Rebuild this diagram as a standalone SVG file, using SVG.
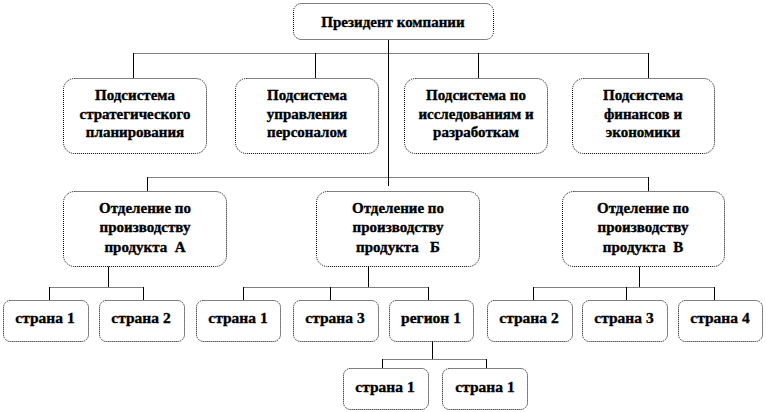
<svg xmlns="http://www.w3.org/2000/svg" width="766" height="412" viewBox="0 0 766 412">
<style>
.box{fill:#fff;stroke:#000;stroke-width:1;stroke-dasharray:1 1}
.t{font-family:'Liberation Serif','DejaVu Serif',serif;font-weight:bold;font-size:15px;fill:#000;stroke:#000;stroke-width:0.35;text-anchor:middle}
.s{font-size:15.5px}
.bus{fill:none;stroke:#000;stroke-width:1;stroke-dasharray:1 1}
.v{fill:none;stroke:#000;stroke-width:1}
</style>
<rect width="766" height="412" fill="#fff"/>
<g id="connectors">
  <path class="v" d="M388.5 40 V186"/>
  <path class="bus" d="M133.5 53.5 H648.5"/>
  <path class="v" d="M133.5 53 V78 M315.5 53 V78 M478.5 53 V78 M648.5 53 V78"/>
  <path class="bus" d="M147.5 177.5 H648.5"/>
  <path class="v" d="M147.5 177 V191 M648.5 177 V191"/>
  <path class="v" d="M108.5 266 V287 M368.5 266 V287 M639.5 266 V287 M432.5 341 V359"/>
  <path class="bus" d="M49.5 287.5 H143.5 M243.5 287.5 H428.5 M533.5 287.5 H714.5 M382.5 359.5 H486.5"/>
  <path class="v" d="M49.5 287 V300 M143.5 287 V300 M243.5 287 V300 M330.5 287 V300 M428.5 287 V300 M533.5 287 V300 M626.5 287 V300 M714.5 287 V300 M382.5 359 V368 M486.5 359 V368"/>
</g>
<g id="president">
  <rect class="box" x="293.5" y="3.5" width="200" height="36" rx="8"/>
  <text class="t" x="393" y="27">Президент компании</text>
</g>
<g id="sub1">
  <rect class="box" x="63.5" y="78.5" width="143" height="75" rx="11"/>
  <text class="t" x="135" y="100">Подсистема</text>
  <text class="t" x="135" y="118.5">стратегического</text>
  <text class="t" x="135" y="137">планирования</text>
</g>
<g id="sub2">
  <rect class="box" x="235.5" y="78.5" width="143" height="75" rx="11"/>
  <text class="t" x="307" y="100">Подсистема</text>
  <text class="t" x="307" y="118.5">управления</text>
  <text class="t" x="307" y="137">персоналом</text>
</g>
<g id="sub3">
  <rect class="box" x="404.5" y="78.5" width="143" height="75" rx="11"/>
  <text class="t" x="476" y="100">Подсистема по</text>
  <text class="t" x="476" y="118.5">исследованиям и</text>
  <text class="t" x="476" y="137">разработкам</text>
</g>
<g id="sub4">
  <rect class="box" x="572.5" y="78.5" width="142" height="75" rx="11"/>
  <text class="t" x="643" y="100">Подсистема</text>
  <text class="t" x="643" y="118.5">финансов и</text>
  <text class="t" x="643" y="137">экономики</text>
</g>
<g id="divA">
  <rect class="box" x="63.5" y="191.5" width="163" height="75" rx="11"/>
  <text class="t" x="145" y="213">Отделение по</text>
  <text class="t" x="145" y="232">производству</text>
  <text class="t" x="145" y="252" xml:space="preserve">продукта  А</text>
</g>
<g id="divB">
  <rect class="box" x="316.5" y="191.5" width="163" height="75" rx="11"/>
  <text class="t" x="398" y="213">Отделение по</text>
  <text class="t" x="398" y="232">производству</text>
  <text class="t" x="398" y="252" xml:space="preserve">продукта   Б</text>
</g>
<g id="divV">
  <rect class="box" x="562.5" y="191.5" width="162" height="75" rx="11"/>
  <text class="t" x="643" y="213">Отделение по</text>
  <text class="t" x="643" y="232">производству</text>
  <text class="t" x="643" y="252" xml:space="preserve">продукта  В</text>
</g>
<g id="a1"><rect class="box" x="3.5" y="300.5" width="85" height="41" rx="7"/><text class="t s" x="45" y="323">страна 1</text></g>
<g id="a2"><rect class="box" x="99.5" y="300.5" width="85" height="41" rx="7"/><text class="t s" x="141" y="323">страна 2</text></g>
<g id="b1"><rect class="box" x="196.5" y="300.5" width="84" height="41" rx="7"/><text class="t s" x="238" y="323">страна 1</text></g>
<g id="b3"><rect class="box" x="293.5" y="300.5" width="85" height="41" rx="7"/><text class="t s" x="335" y="323">страна 3</text></g>
<g id="r1"><rect class="box" x="389.5" y="300.5" width="84" height="41" rx="7"/><text class="t s" x="431" y="323">регион 1</text></g>
<g id="v2"><rect class="box" x="487.5" y="300.5" width="85" height="41" rx="7"/><text class="t s" x="529" y="323">страна 2</text></g>
<g id="v3"><rect class="box" x="582.5" y="300.5" width="85" height="41" rx="7"/><text class="t s" x="624" y="323">страна 3</text></g>
<g id="v4"><rect class="box" x="678.5" y="300.5" width="84" height="41" rx="7"/><text class="t s" x="720" y="323">страна 4</text></g>
<g id="r1c1"><rect class="box" x="343.5" y="368.5" width="85" height="41" rx="7"/><text class="t s" x="385" y="392">страна 1</text></g>
<g id="r1c2"><rect class="box" x="442.5" y="368.5" width="85" height="41" rx="7"/><text class="t s" x="485" y="392">страна 1</text></g>
</svg>
